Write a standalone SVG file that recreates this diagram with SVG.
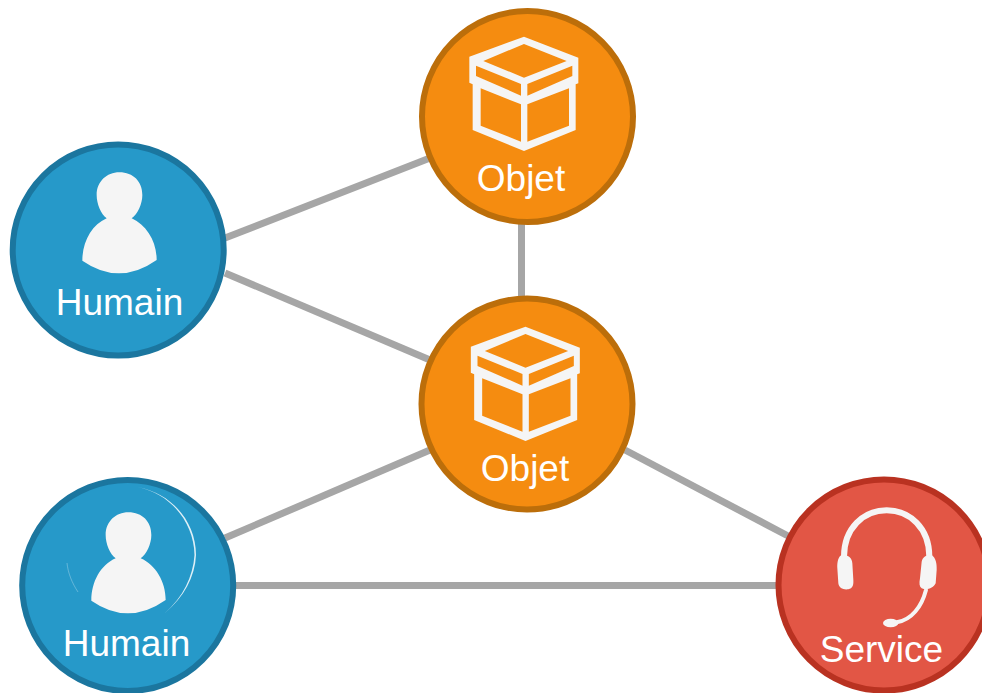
<svg xmlns="http://www.w3.org/2000/svg" xmlns:xlink="http://www.w3.org/1999/xlink" width="982" height="693" viewBox="0 0 982 693">
<style>
.edge{stroke:#a6a6a6;stroke-width:7;fill:none}
.node{stroke-width:6}
.human{fill:#2699c9;stroke:#1b769f}
.object{fill:#f58c10;stroke:#bc6e0a}
.service{fill:#e25645;stroke:#b93221}
.icon{fill:#f5f5f5}
.line{fill:none;stroke:#f5f5f5;stroke-linecap:round}
text{font-family:"Liberation Sans",Arial,sans-serif;font-size:37px;fill:#fff;text-anchor:middle}
</style>
<defs>
<path id="person" class="icon" transform="translate(5 140) scale(.33333)" d="M305,235C288,222 275,192 275,165C275,125 305,97 343,97C385,97 412,125 412,165C412,192 398,222 380,235C425,255 455,305 455,360Q343,439 232,362C232,305 260,255 305,235Z"/>
<path id="box" class="icon" fill-rule="evenodd" transform="translate(420 5) scale(.33333)" d="M312,95L475,158V235L467,238V375L312,438L158,375V238L148,233V155Z M312,117L190,168L312,218L440,168Z M168,182V213L303,272V237Z M322,237V272L457,213V182Z M182,250V362L303,410V298Z M322,298V410L447,362V250Z"/>
</defs>
<g id="connectors">
<path class="edge" d="M225,238L430,158"/>
<path class="edge" d="M225,273L430,360"/>
<path class="edge" d="M521.5,224V296"/>
<path class="edge" d="M430,450L225,538"/>
<path class="edge" d="M625,450L790,537"/>
<path class="edge" d="M235,585.5H776"/>
</g>
<g id="human1"><circle class="node human" cx="118.2" cy="250" r="105.5"/><use xlink:href="#person" href="#person"/><text x="119.5" y="315">Humain</text></g>
<g id="human2"><circle class="node human" cx="127.7" cy="585.5" r="105.5"/><path d="M137,487C172,493 196,522 196,555C195,577 184,597 165,613C183,597 193,577 194.5,555C194,522 170,493 137,487Z" fill="#fff" opacity=".85"/><path d="M67,563C68,573 72,583 78,592" fill="none" stroke="#fff" stroke-width=".7" opacity=".4"/><use xlink:href="#person" href="#person" x="9" y="340"/><text x="126.5" y="656">Humain</text></g>
<g id="object1"><circle class="node object" cx="527.5" cy="116.5" r="105.5"/><use xlink:href="#box" href="#box"/><text x="521" y="191">Objet</text></g>
<g id="object2"><circle class="node object" cx="527" cy="404" r="105.5"/><use xlink:href="#box" href="#box" x="1.5" y="290"/><text x="525" y="481">Objet</text></g>
<g id="service"><circle class="node service" cx="884" cy="585" r="105.5"/>
<g transform="translate(770 475) scale(.33333)">
<path class="line" stroke-width="18" d="M222,245C222,160 280,106 350,106C420,106 478,160 478,245"/>
<path class="icon" d="M215,240C205,245 201,260 202,280L205,325C207,340 220,345 235,343C248,340 251,330 250,315L247,265C246,250 238,240 215,240Z"/>
<path class="icon" d="M485,240C497,248 501,265 500,285L497,325C490,340 470,347 455,340C448,335 447,325 450,310L455,260C458,245 470,238 485,240Z"/>
<path class="line" stroke-width="12" d="M468,345C455,395 425,435 380,442"/>
<ellipse class="icon" cx="362" cy="444" rx="23" ry="13"/>
</g>
<text x="881.5" y="662">Service</text></g>
</svg>
